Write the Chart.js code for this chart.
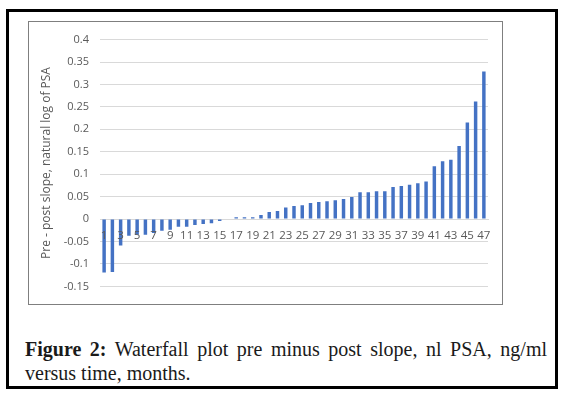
<!DOCTYPE html>
<html>
<head>
<meta charset="utf-8">
<script src="https://cdn.jsdelivr.net/npm/chart.js@4.4.0/dist/chart.umd.min.js"></script>
<style>
  body { margin:0; background:#fff; width:570px; height:394px; position:relative; overflow:hidden; }
  #frame { position:absolute; left:6px; top:9px; width:546px; height:374px; border:3px solid #000; }
  #box { position:absolute; left:28px; top:21px; width:473px; height:282px; border:1px solid #7f7f7f; }
  #caption { position:absolute; left:25px; top:337px; width:522px; font-family:"Liberation Serif", serif; font-size:20px; color:#1a1a1a; line-height:24px; }
  #caption .l1 { text-align:justify; text-align-last:justify; white-space:nowrap; }
</style>
</head>
<body>
<div id="frame"></div>
<div id="box"><canvas id="waterfall" width="473" height="282"></canvas></div>
<div id="caption">
  <div class="l1"><b>Figure 2:</b> Waterfall plot pre minus post slope, nl PSA, ng/ml</div>
  <div>versus time, months.</div>
</div>
<script>
// patient index 1..47
var patients = [];
for (var i = 1; i <= 47; i++) patients.push(String(i));

// pre - post slope, natural log of PSA
var slopeDiff = [
  -0.119, -0.118, -0.059, -0.037, -0.035, -0.035, -0.031, -0.026, -0.024, -0.017,
  -0.017, -0.013, -0.011, -0.009, -0.004, -0.001, 0.004, 0.004, 0.004, 0.009,
  0.016, 0.018, 0.026, 0.029, 0.031, 0.036, 0.038, 0.040, 0.042, 0.045,
  0.049, 0.060, 0.060, 0.062, 0.062, 0.0715, 0.074, 0.0765, 0.080, 0.084,
  0.118, 0.129, 0.132, 0.163, 0.215, 0.262, 0.329
];

var yMin = -0.15, yMax = 0.4, yStep = 0.05;

var ctx = document.getElementById('waterfall').getContext('2d');
var chart = new Chart(ctx, {
  type: 'bar',
  data: {
    labels: patients,
    datasets: [{
      data: slopeDiff,
      backgroundColor: '#4472C4',
      borderWidth: 0,
      barPercentage: 0.42,
      categoryPercentage: 1
    }]
  },
  options: {
    responsive: false,
    animation: false,
    events: [],
    layout: { padding: { left: 10, right: 14, top: 1, bottom: 2 } },
    plugins: { legend: { display: false }, tooltip: { enabled: false } },
    scales: {
      x: {
        position: { y: 0 },
        grid: { display: false, drawTicks: false },
        border: { color: '#d9d9d9' },
        ticks: {
          z: 1,   // labels on top of the bars, like excel
          autoSkip: false,
          maxRotation: 0,
          padding: 10,
          color: '#595959',
          font: { family: 'Open Sans', size: 11.5 },
          callback: function(v, i) { return i % 2 === 0 ? this.getLabelForValue(v) : ''; }
        }
      },
      y: {
        min: yMin,
        max: yMax,
        afterFit: function(s) { s.width = 61; },
        grid: { color: '#d9d9d9', drawTicks: false },
        border: { display: false },
        ticks: {
          stepSize: yStep,
          padding: 11,
          color: '#595959',
          font: { family: 'Open Sans', size: 11 },
          callback: function(v) { return String(parseFloat(v.toFixed(2))); }
        },
        title: {
          display: true,
          text: 'Pre - post slope, natural log of PSA',
          color: '#595959',
          font: { family: 'Open Sans', size: 12 },
          padding: 0
        }
      }
    }
  }
});
</script>
</body>
</html>
